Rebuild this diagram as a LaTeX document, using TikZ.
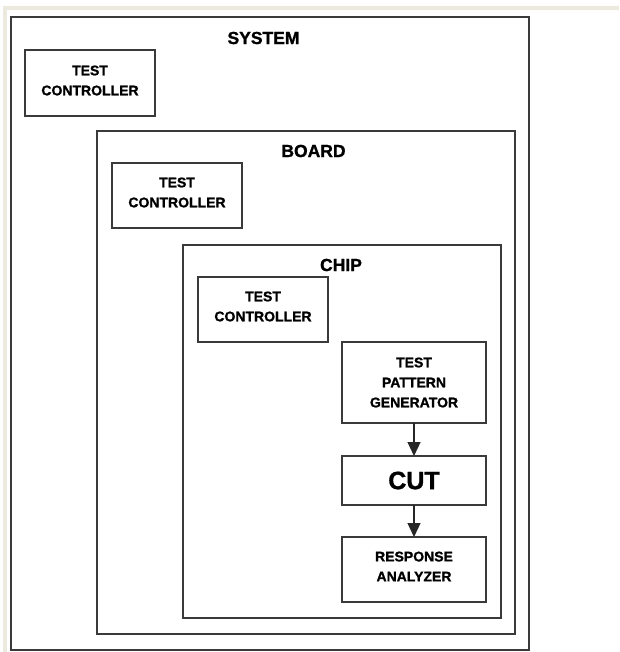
\documentclass[tikz,border=0pt]{standalone}
\usepackage{fontspec}
\setmainfont{Liberation Sans}
\newfontfamily\heavyfont[FakeBold=1.2]{Liberation Sans Bold}
\usetikzlibrary{arrows.meta}
\definecolor{linegray}{HTML}{3A3A3A}
\definecolor{xpbeige}{HTML}{ECE9DF}
\tikzset{
  box/.style={draw=linegray, line width=1.2pt, rectangle, inner sep=0pt, outer sep=0pt,
    align=center, font=\fontsize{14}{20}\heavyfont},
  boxtext/.style={inner sep=0pt, align=center, font=\fontsize{14}{20}\heavyfont},
  title/.style={inner sep=0pt, font=\fontsize{17.5}{20}\heavyfont},
  flow/.style={draw=black!85, line width=1.2pt, -{Triangle[length=14pt,width=13pt]}}
}
\begin{document}
\begin{tikzpicture}[x=1pt,y=-1pt]
\useasboundingbox (0,0) rectangle (619,652);
\fill[white] (0,0) rectangle (619,652);
% window frame strips
\fill[xpbeige] (3,6) rectangle (619,10);
\fill[xpbeige] (3,6) rectangle (7,652);
% containers
\node[box, minimum width=518pt, minimum height=633pt] (sys) at (270,333.5) {};
\node[title] (systitle) at (263.5,38) {SYSTEM};
\node[box, minimum width=130pt, minimum height=66pt] (systc) at (90,83) {};
\node[boxtext] (systct) at (90,80.5) {TEST\\CONTROLLER};
\node[box, minimum width=418pt, minimum height=503pt] (board) at (306,382.5) {};
\node[title] (boardtitle) at (313.5,151) {BOARD};
\node[box, minimum width=130pt, minimum height=65pt] (boardtc) at (177,195.5) {};
\node[boxtext] (boardtct) at (177,192.5) {TEST\\CONTROLLER};
\node[box, minimum width=318pt, minimum height=373pt] (chip) at (342,431.5) {};
\node[title] (chiptitle) at (341,265) {CHIP};
\node[box, minimum width=130pt, minimum height=65pt] (chiptc) at (263,309.5) {};
\node[boxtext] (chiptct) at (263,306.5) {TEST\\CONTROLLER};
% flow
\node[box, minimum width=144pt, minimum height=81pt] (tpg) at (414,382.5) {TEST\\PATTERN\\GENERATOR};
\node[box, minimum width=144pt, minimum height=49pt, font=\fontsize{25}{28}\heavyfont] (cut) at (414,480.5) {CUT};
\node[box, minimum width=144pt, minimum height=65pt] (ra) at (414,569.5) {};
\node[boxtext] (rat) at (414,566.5) {RESPONSE\\ANALYZER};
\draw[flow] (tpg.south) -- (cut.north);
\draw[flow] (cut.south) -- (ra.north);
\end{tikzpicture}
\end{document}
